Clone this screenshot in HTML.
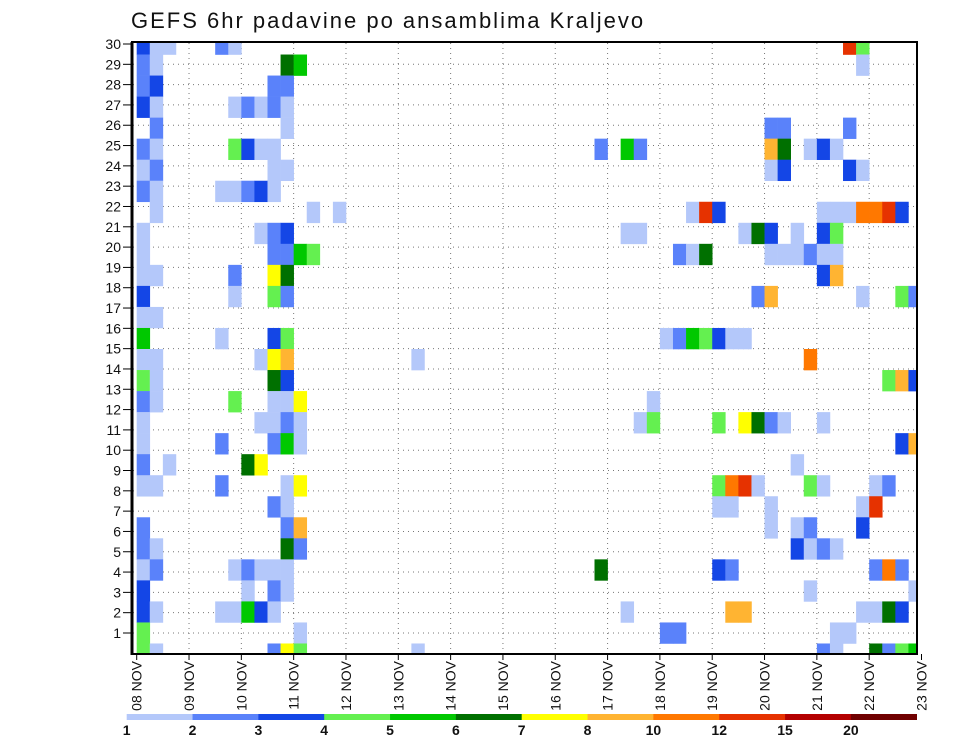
<!DOCTYPE html>
<html>
<head>
<meta charset="utf-8">
<style>
html,body{margin:0;padding:0;background:#fff;}
svg{display:block;font-family:"Liberation Sans",sans-serif;}
</style>
</head>
<body>
<svg id="chart" width="960" height="742" viewBox="0 0 960 742" xmlns="http://www.w3.org/2000/svg">
  <text x="131" y="28" font-size="22" letter-spacing="2" fill="#111">GEFS 6hr padavine po ansamblima Kraljevo</text>
  <defs><clipPath id="plotclip"><rect x="133" y="43" width="783" height="611"/></clipPath></defs>
  <g id="grid"></g>
  <g id="cells" clip-path="url(#plotclip)"></g>
  <rect x="132" y="42" width="785" height="612" fill="none" stroke="#000" stroke-width="2"/>
  <line x1="132" y1="42" x2="132" y2="655" stroke="#000" stroke-width="3"/>
  <g id="yaxis"></g>
  <g id="xaxis"></g>
  <g id="legend"></g>
</svg>
<script>
// ---- data ----
const dayLabels = ["08","09","10","11","12","13","14","15","16","17","18","19","20","21","22","23"];
const memberTicks = [1,2,3,4,5,6,7,8,9,10,11,12,13,14,15,16,17,18,19,20,21,22,23,24,25,26,27,28,29,30];
const legendLabels = ["1","2","3","4","5","6","7","8","10","12","15","20"];
const legendColors = ["#b4c8fa","#5a82fa","#1446e6","#64f050","#00c800","#007000","#ffff00","#ffb432","#ff7800","#e63200","#b40000","#700000"];
// band (top->bottom) : "column:class" (class 1..12, hex a=10)
const band00 = "0:3 1:1 2:1 6:2 7:1 54:a 55:4";
const band01 = "0:2 1:1 11:6 12:5 55:1";
const band02 = "0:2 1:3 10:2 11:2";
const band03 = "0:3 1:1 7:1 8:2 9:1 10:2 11:1";
const band04 = "1:2 11:1 48:2 49:2 54:2";
const band05 = "0:2 1:1 7:4 8:3 9:1 10:1 35:2 37:5 38:2 48:8 49:6 51:1 52:3 53:1";
const band06 = "0:1 1:2 10:1 11:1 48:1 49:3 54:3 55:1";
const band07 = "0:2 1:1 6:1 7:1 8:2 9:3 10:1";
const band08 = "1:1 13:1 15:1 42:1 43:a 44:3 52:1 53:1 54:1 55:9 56:9 57:a 58:3";
const band09 = "0:1 9:1 10:2 11:3 37:1 38:1 46:1 47:6 48:3 50:1 52:3 53:4";
const band10 = "0:1 10:2 11:2 12:5 13:4 41:2 42:1 43:6 48:1 49:1 50:1 51:2 52:1 53:1";
const band11 = "0:1 1:1 7:2 10:7 11:6 52:3 53:8";
const band12 = "0:3 7:1 10:4 11:2 47:2 48:8 55:1 58:4 59:2";
const band13 = "0:1 1:1";
const band14 = "0:5 6:1 10:3 11:4 40:1 41:2 42:5 43:4 44:3 45:1 46:1";
const band15 = "0:1 1:1 9:1 10:7 11:8 21:1 51:9";
const band16 = "0:4 1:1 10:6 11:3 57:4 58:8 59:3";
const band17 = "0:2 1:1 7:4 10:1 11:1 12:7 39:1";
const band18 = "0:1 9:1 10:1 11:2 12:1 38:1 39:4 44:4 46:7 47:6 48:2 49:1 52:1";
const band19 = "0:1 6:2 10:2 11:5 12:1 58:3 59:8";
const band20 = "0:2 2:1 8:6 9:7 50:1";
const band21 = "0:1 1:1 6:2 11:1 12:7 44:4 45:9 46:a 47:1 51:4 52:1 56:1 57:2";
const band22 = "10:2 11:1 44:1 45:1 48:1 55:1 56:a";
const band23 = "0:2 11:2 12:8 48:1 50:1 51:2 55:3";
const band24 = "0:2 1:1 11:6 12:2 50:3 51:1 52:2 53:1";
const band25 = "0:1 1:2 7:1 8:2 9:1 10:1 11:1 35:6 44:3 45:2 56:2 57:9 58:2";
const band26 = "0:3 8:1 10:2 11:1 51:1 59:1";
const band27 = "0:3 1:1 6:1 7:1 8:5 9:3 10:1 37:1 45:8 46:8 55:1 56:1 57:6 58:3";
const band28 = "0:4 12:1 40:2 41:2 53:1 54:1";
const band29 = "0:4 1:1 10:2 11:7 12:4 21:1 52:2 53:1 56:6 57:2 58:4 59:5";
const bands = [band00,band01,band02,band03,band04,band05,band06,band07,band08,band09,
  band10,band11,band12,band13,band14,band15,band16,band17,band18,band19,
  band20,band21,band22,band23,band24,band25,band26,band27,band28,band29];

// ---- scales ----
const NS = "http://www.w3.org/2000/svg";
const colW = 13.08, x0 = 136.7;
const xCol = c => x0 + colW * c;
const xDay = d => x0 + colW * 4 * d;
const bandH = (654 - 44) / 29;
const yBand = i => 44 + i * bandH;             // band center
const yTick = r => 653.3 - 20.31 * r;          // member label position
function mk(tag, attrs, parent){ const e=document.createElementNS(NS,tag); for(const k in attrs) e.setAttribute(k,attrs[k]); parent.appendChild(e); return e; }

// grid
const grid = document.getElementById('grid');
memberTicks.forEach(r => {
  if (r >= 30) return;
  const l = mk('line',{x1:133,x2:916,y1:yTick(r),y2:yTick(r),stroke:'#777','stroke-width':1,'stroke-dasharray':'1 4'},grid);
  
  
});
dayLabels.forEach((d,i) => {
  if (i === 0 || i === dayLabels.length-1) return;
  const l = mk('line',{x1:xDay(i),x2:xDay(i),y1:43,y2:654,stroke:'#777','stroke-width':1,'stroke-dasharray':'1 4'},grid);
  
  
});

// cells
const cg = document.getElementById('cells');
bands.forEach((s,i) => {
  s.split(' ').forEach(tok => {
    const [c,v] = tok.split(':');
    const cls = parseInt(v,16);
    const r = mk('rect',{x:xCol(+c),y:yBand(i)-bandH/2,width:colW+0.3,height:bandH+0.3,fill:legendColors[cls-1]},cg);
    
    
  });
});

// y axis
const ya = document.getElementById('yaxis');
memberTicks.forEach(r => {
  const y = yTick(r);
  const t = mk('line',{x1:123,x2:132,y1:y,y2:y,stroke:'#000','stroke-width':1},ya);
  
  
  const tx = mk('text',{x:121,y:y+5,'text-anchor':'end','font-size':14,fill:'#111'},ya);
  tx.textContent = r;
  
  
});

// x axis
const xa = document.getElementById('xaxis');
dayLabels.forEach((d,i) => {
  const x = xDay(i);
  const t = mk('line',{x1:x,x2:x,y1:654,y2:660,stroke:'#000','stroke-width':1},xa);
  
  
  const tx = mk('text',{x:0,y:0,'text-anchor':'end','font-size':14,fill:'#111',transform:`translate(${x+5},661) rotate(-90)`},xa);
  tx.textContent = d + ' NOV';
  
  
});

// legend
const lg = document.getElementById('legend');
const lx0 = 126.7, lw = (916.7 - 126.7) / legendColors.length;
legendColors.forEach((col,i) => {
  const r = mk('rect',{x:lx0+i*lw,y:714,width:lw+0.3,height:6,fill:col},lg);
  
  
});
legendLabels.forEach((lab,i) => {
  const t = mk('text',{x:lx0+i*lw,y:735,'text-anchor':'middle','font-size':14,'font-weight':'bold',fill:'#111'},lg);
  t.textContent = lab;
  
  
});
</script>
</body>
</html>
